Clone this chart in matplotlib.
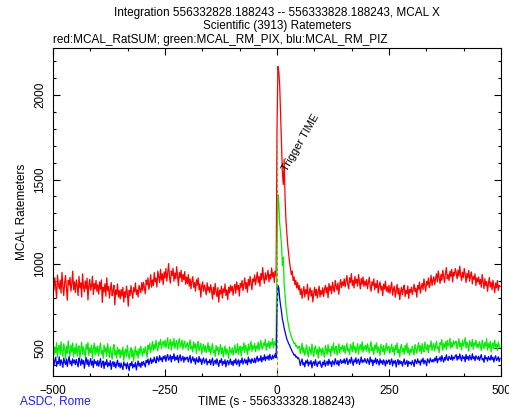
import numpy as np
import matplotlib
matplotlib.use("Agg")
import matplotlib.pyplot as plt
from matplotlib.ticker import MultipleLocator

plt.rcParams['font.family'] = ['Liberation Sans', 'DejaVu Sans']
plt.rcParams['font.size'] = 8.5

# 2 s bins, seconds from the trigger time
t = np.arange(-500, 500, 2)

# red: MCAL_RatSUM
rat_sum = [
    905, 842, 918, 861, 796, 934, 877, 851, 903, 826, 949, 868, 812, 889, 931, 857, 784, 902, 874, 920, 838, 881, 957, 846, 893,
    829, 905, 871, 812, 926, 858, 887, 803, 941, 866, 834, 899, 852, 915, 786, 874, 908, 843, 869, 927, 818, 884, 851, 902, 837,
    876, 820, 893, 849, 905, 771, 861, 834, 882, 808, 917, 843, 866, 797, 851, 889, 812, 838, 873, 756, 846, 819, 881, 803, 842,
    792, 848, 810, 861, 773, 835, 801, 868, 826, 749, 843, 812, 871, 829, 795, 858, 834, 887, 818, 846, 803, 872, 851, 829, 889,
    842, 891, 858, 823, 904, 876, 917, 849, 881, 936, 862, 905, 871, 948, 893, 916, 862, 957, 924, 889, 968, 903, 941, 877, 952,
    916, 973, 898, 944, 1002, 921, 886, 958, 931, 974, 897, 946, 912, 983, 925, 871, 949, 918, 962, 893, 937, 906, 954, 879, 922,
    883, 936, 868, 911, 852, 897, 924, 861, 889, 838, 906, 873, 917, 846, 881, 802, 869, 893, 837, 874, 851, 816, 888, 842, 863,
    829, 876, 843, 791, 862, 818, 884, 835, 806, 859, 773, 844, 821, 868, 797, 852, 830, 881, 812, 846, 788, 861, 827, 873, 839,
    868, 814, 857, 879, 826, 893, 848, 871, 809, 884, 862, 902, 841, 876, 917, 853, 889, 832, 908, 871, 926, 884, 847, 911, 893,
    934, 876, 912, 951, 889, 925, 867, 943, 906, 978, 918, 884, 947, 905, 931, 962, 893, 937, 910, 976, 922, 948, 889, 957, 931,
    1790, 2170, 2140, 2060, 1890, 1710, 1540, 1470, 1620, 1390, 1260, 1180, 1110, 1060, 1010, 972, 935, 958, 901, 924, 876, 903, 857, 889, 846,
    871, 818, 852, 795, 838, 866, 804, 847, 822, 879, 786, 831, 858, 809, 843, 774, 826, 861, 812, 849, 797, 835, 868, 803, 842,
    819, 858, 806, 847, 873, 828, 861, 799, 884, 842, 869, 823, 891, 856, 834, 902, 867, 845, 888, 819, 876, 907, 858, 893, 871,
    912, 864, 897, 931, 876, 853, 918, 889, 942, 871, 903, 857, 926, 884, 909, 868, 937, 892, 851, 914, 879, 923, 866, 898, 872,
    906, 853, 889, 921, 868, 837, 894, 872, 911, 846, 883, 859, 902, 827, 871, 893, 845, 868, 812, 880, 851, 897, 838, 864, 829,
    873, 826, 858, 891, 814, 849, 867, 802, 843, 879, 821, 856, 788, 838, 862, 817, 851, 874, 806, 842, 823, 869, 795, 848, 831,
    862, 818, 847, 879, 835, 856, 803, 871, 849, 892, 826, 864, 884, 847, 911, 869, 838, 896, 874, 917, 858, 889, 932, 871, 903,
    924, 876, 912, 941, 893, 958, 917, 884, 937, 903, 962, 926, 889, 945, 978, 912, 936, 901, 957, 924, 968, 893, 949, 931, 972,
    948, 911, 963, 927, 986, 934, 902, 951, 919, 973, 938, 889, 944, 917, 962, 897, 931, 952, 881, 926, 908, 941, 872, 917, 893,
    922, 879, 908, 861, 937, 894, 853, 912, 871, 896, 837, 884, 919, 862, 891, 846, 903, 868, 829, 887, 858, 901, 842, 873, 866,
]

# green: MCAL_RM_PIX
rm_pix = [
    521, 458, 507, 473, 532, 446, 499, 517, 462, 538, 481, 451, 526, 494, 439, 512, 469, 543, 487, 455, 519, 476, 531, 448, 503,
    468, 527, 452, 496, 514, 441, 489, 535, 463, 507, 478, 446, 522, 491, 533, 457, 501, 474, 518, 437, 495, 529, 461, 508, 472,
    513, 454, 497, 531, 466, 488, 439, 519, 476, 502, 451, 527, 483, 445, 509, 472, 434, 498, 521, 458, 486, 441, 505, 467, 493,
    442, 489, 461, 507, 428, 476, 494, 451, 517, 469, 436, 482, 503, 447, 491, 425, 474, 509, 458, 483, 441, 498, 466, 512, 479,
    452, 498, 471, 509, 483, 446, 517, 492, 528, 474, 505, 539, 487, 521, 496, 547, 508, 483, 536, 519, 552, 497, 528, 541, 509,
    548, 503, 531, 562, 497, 524, 551, 489, 537, 516, 558, 498, 529, 545, 491, 533, 557, 506, 521, 549, 493, 527, 542, 501, 518,
    534, 487, 521, 549, 496, 512, 478, 538, 503, 526, 469, 517, 541, 484, 508, 529, 465, 502, 523, 481, 514, 474, 497, 532, 479,
    511, 463, 498, 527, 472, 489, 451, 516, 484, 507, 459, 494, 521, 468, 502, 448, 487, 513, 462, 495, 476, 441, 508, 483, 469,
    503, 458, 491, 519, 471, 482, 527, 464, 498, 512, 453, 506, 489, 532, 474, 518, 496, 461, 525, 487, 509, 541, 481, 514, 497,
    528, 479, 513, 497, 536, 488, 521, 547, 502, 494, 531, 516, 552, 489, 527, 509, 543, 498, 534, 521, 557, 503, 538, 517, 529,
    1080, 1410, 1360, 1240, 1180, 1120, 990, 1040, 880, 810, 745, 700, 662, 631, 604, 587, 571, 553, 541, 526, 532, 511, 518, 498, 507,
    511, 467, 494, 529, 472, 503, 458, 486, 519, 476, 448, 507, 491, 462, 524, 483, 451, 498, 514, 469, 492, 441, 508, 477, 496,
    457, 502, 473, 446, 516, 489, 463, 521, 478, 495, 452, 509, 484, 531, 467, 498, 512, 459, 487, 526, 471, 504, 493, 518, 481,
    514, 468, 502, 529, 483, 496, 461, 523, 507, 478, 536, 489, 512, 471, 498, 527, 464, 505, 521, 487, 538, 476, 509, 493, 517,
    482, 526, 497, 471, 513, 539, 486, 504, 462, 519, 495, 531, 474, 508, 488, 456, 522, 501, 479, 516, 463, 497, 528, 485, 506,
    511, 468, 497, 524, 479, 503, 457, 516, 489, 531, 472, 494, 448, 508, 521, 477, 499, 463, 517, 486, 529, 471, 502, 459, 493,
    476, 512, 488, 459, 523, 497, 471, 506, 533, 482, 514, 468, 527, 495, 478, 536, 501, 489, 522, 473, 517, 508, 542, 486, 511,
    529, 483, 514, 541, 496, 508, 473, 532, 519, 551, 488, 526, 504, 538, 492, 547, 513, 521, 559, 498, 533, 507, 544, 522, 536,
    541, 497, 523, 556, 508, 531, 489, 547, 514, 528, 563, 501, 536, 519, 482, 545, 527, 509, 552, 493, 531, 518, 548, 505, 526,
    503, 539, 517, 486, 548, 521, 497, 534, 511, 556, 489, 527, 503, 541, 478, 519, 532, 495, 548, 507, 523, 486, 537, 514, 502,
]

# blue: MCAL_RM_PIZ
rm_piz = [
    439, 401, 427, 446, 392, 421, 408, 449, 397, 431, 414, 386, 442, 419, 403, 436, 391, 428, 451, 406, 424, 395, 437, 412, 429,
    402, 434, 411, 389, 441, 423, 398, 436, 407, 427, 381, 419, 445, 403, 431, 392, 416, 438, 399, 424, 385, 433, 409, 421, 396,
    427, 393, 415, 438, 386, 409, 424, 379, 418, 401, 432, 389, 413, 397, 426, 374, 408, 421, 391, 417, 383, 405, 429, 392, 411,
    384, 412, 391, 373, 419, 398, 406, 378, 414, 392, 367, 409, 397, 421, 382, 403, 389, 416, 371, 401, 424, 393, 411, 386, 418,
    398, 421, 407, 389, 428, 414, 436, 401, 423, 441, 409, 431, 418, 447, 426, 412, 451, 434, 422, 456, 431, 443, 419, 452, 437,
    456, 421, 447, 463, 429, 441, 459, 418, 451, 437, 467, 426, 448, 433, 458, 415, 445, 461, 424, 439, 452, 417, 446, 431, 443,
    447, 418, 439, 456, 412, 431, 449, 423, 437, 405, 443, 427, 416, 451, 421, 436, 403, 429, 442, 411, 425, 438, 401, 422, 414,
    433, 402, 424, 441, 397, 418, 429, 406, 437, 411, 391, 426, 415, 439, 398, 421, 408, 432, 389, 419, 427, 401, 416, 436, 404,
    421, 396, 428, 411, 437, 402, 419, 431, 393, 426, 414, 442, 405, 423, 436, 411, 429, 401, 447, 418, 432, 409, 438, 424, 415,
    441, 413, 436, 452, 421, 438, 427, 456, 418, 444, 431, 461, 426, 449, 437, 455, 429, 463, 441, 432, 458, 439, 451, 466, 443,
    690, 872, 858, 795, 752, 718, 671, 649, 618, 596, 574, 553, 541, 526, 519, 502, 494, 479, 471, 458, 463, 447, 452, 438, 443,
    428, 397, 419, 436, 401, 414, 389, 425, 411, 431, 394, 418, 406, 427, 383, 413, 421, 398, 432, 405, 391, 419, 409, 424, 397,
    386, 417, 402, 429, 393, 411, 423, 398, 435, 407, 419, 391, 426, 413, 401, 438, 416, 404, 427, 396, 421, 433, 409, 425, 414,
    437, 408, 426, 441, 402, 419, 432, 411, 446, 423, 398, 431, 418, 443, 409, 427, 436, 403, 421, 448, 414, 429, 417, 439, 422,
    411, 438, 424, 403, 447, 419, 431, 396, 428, 416, 441, 407, 433, 421, 399, 436, 412, 426, 403, 431, 418, 394, 429, 408, 423,
    431, 402, 419, 437, 395, 424, 411, 428, 388, 417, 433, 401, 426, 409, 421, 393, 418, 436, 404, 412, 427, 391, 422, 409, 416,
    401, 426, 413, 391, 432, 419, 408, 437, 414, 423, 399, 431, 418, 441, 406, 428, 419, 396, 437, 424, 412, 441, 427, 418, 433,
    419, 441, 426, 452, 413, 437, 431, 448, 422, 456, 434, 418, 445, 429, 461, 437, 426, 452, 441, 433, 459, 428, 447, 438, 455,
    461, 429, 452, 436, 466, 441, 424, 457, 439, 448, 419, 463, 436, 451, 428, 458, 442, 431, 467, 437, 449, 426, 455, 443, 434,
    452, 427, 446, 462, 431, 439, 416, 457, 436, 444, 423, 451, 438, 429, 459, 433, 447, 418, 441, 455, 427, 436, 449, 421, 440,
]

trigger_top = 1750

fig = plt.figure(figsize=(5.1, 4.08), dpi=100)
ax = fig.add_axes([53 / 510, 1 - 376 / 408, 448 / 510, 328 / 408])

ax.plot(t, rat_sum, color='#ff0000', lw=0.9)
ax.plot(t, rm_pix, color='#00ee00', lw=0.9)
ax.plot(t, rm_piz, color='#0000ff', lw=0.9)

# trigger marker
ax.plot([0, 0], [335, trigger_top], color='#b09030', lw=0.8, ls=(0, (3, 2)))
ax.text(27, 1539, 'Trigger TIME', rotation=60, rotation_mode='anchor',
        ha='left', va='bottom', fontsize=8)

ax.set_xlim(-500, 500)
ax.set_ylim(335, 2280)
ax.xaxis.set_major_locator(MultipleLocator(250))
ax.xaxis.set_minor_locator(MultipleLocator(250 / 3))
ax.yaxis.set_major_locator(MultipleLocator(500))
ax.yaxis.set_minor_locator(MultipleLocator(100))
ax.tick_params(which='both', direction='in', top=True, right=True, width=0.8)
ax.tick_params(which='major', length=5)
ax.tick_params(which='minor', length=2.5)
ax.tick_params(axis='x', pad=6.5)
ax.tick_params(axis='y', pad=5)
for lab in ax.get_yticklabels():
    lab.set_rotation(90)
    lab.set_va('center')
for s in ax.spines.values():
    s.set_linewidth(0.8)

fig.text(277 / 510, 1 - 13 / 408, 'Integration 556332828.188243 -- 556333828.188243, MCAL X',
         ha='center', va='center')
fig.text(277 / 510, 1 - 26 / 408, 'Scientific (3913) Ratemeters', ha='center', va='center')
fig.text(53 / 510, 1 - 40 / 408, 'red:MCAL_RatSUM; green:MCAL_RM_PIX, blu:MCAL_RM_PIZ',
         ha='left', va='center')
fig.text(277 / 510, 1 - 402 / 408, 'TIME (s - 556333328.188243)', ha='center', va='center')
fig.text(20 / 510, 1 - 402 / 408, 'ASDC, Rome', ha='left', va='center', color='#2020e0')
fig.text(22 / 510, 1 - 212 / 408, 'MCAL Ratemeters', ha='center', va='center', rotation=90)

fig.savefig('out.png', dpi=100)
